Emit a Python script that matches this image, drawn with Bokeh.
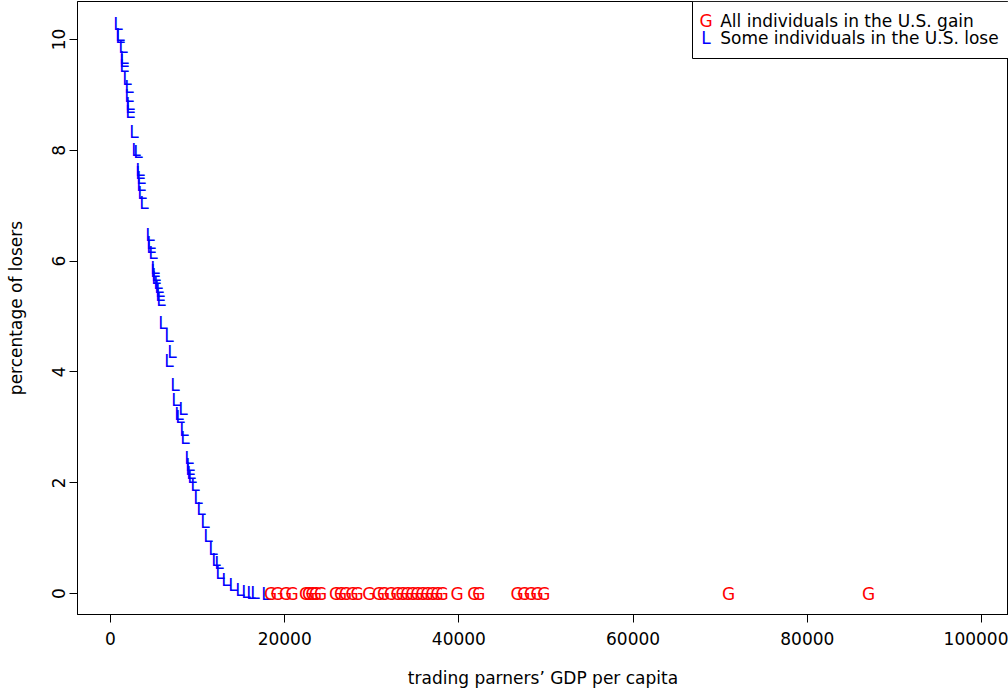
from bokeh.plotting import figure
from bokeh.models import Range1d, FixedTicker, ColumnDataSource, BoxAnnotation, Label, NumeralTickFormatter
from bokeh.embed import file_html
from bokeh.resources import INLINE
from bokeh.core.properties import value

# Trading partners where some individuals in the U.S. lose
lose_gdp = [860, 1090, 1090, 1435, 1550, 1550, 1550, 1894, 2124, 2124, 2239, 2239, 2239,
            2698, 2928, 3157, 3387, 3387, 3502, 3502, 3617, 3846,
            4535, 4650, 4650, 4880, 5109, 5109, 5224, 5224, 5454, 5568, 5683, 5683, 5798, 6028,
            6716, 7061, 6716, 7405, 7520, 8324, 7865, 7979, 8439, 8553,
            9013, 9127, 9127, 9242, 9357, 9700, 10046, 10390, 10850, 11194, 11768, 12112,
            12457, 12572, 13260, 14064, 14868, 15557, 16131, 16590, 17853]
lose_pct = [10.28, 10.08, 10.05, 9.86, 9.67, 9.61, 9.52, 9.29, 9.14, 8.98, 8.84, 8.78, 8.69,
            8.33, 8.01, 7.97, 7.64, 7.59, 7.50, 7.37, 7.23, 7.05,
            6.47, 6.33, 6.25, 6.15, 5.88, 5.82, 5.75, 5.69, 5.60, 5.53, 5.46, 5.39, 5.30, 4.88,
            4.65, 4.36, 4.20, 3.76, 3.49, 3.33, 3.24, 3.19, 2.95, 2.81,
            2.45, 2.32, 2.25, 2.18, 2.10, 1.96, 1.72, 1.53, 1.29, 1.04, 0.80, 0.60,
            0.55, 0.37, 0.24, 0.15, 0.06, 0.03, 0.01, 0.01, 0.0]

# Trading partners where all individuals in the U.S. gain
gain_gdp = [18370, 19139, 20092, 20861, 22388, 22733, 23157, 23536, 24110,
            25832, 26406, 26980, 27750, 28324, 29655,
            30770, 31343, 32147, 32916, 33490, 34064, 34638, 35212, 35786, 36360, 36934,
            37509, 38083, 39805, 41711, 42285,
            46693, 47451, 48220, 48989, 49747, 70953, 87026]
gain_pct = [0.0] * len(gain_gdp)

x_ticks = [0, 20000, 40000, 60000, 80000, 100000]
y_ticks = [0, 2, 4, 6, 8, 10]
legend_labels = ["All individuals in the U.S. gain", "Some individuals in the U.S. lose"]
legend_symbols = ["G", "L"]
legend_colors = ["#FF0000", "#0000FF"]

FONT = "DejaVu Sans"
FS = "17px"

p = figure(width=1008, height=691, output_backend="svg", toolbar_location=None,
           x_range=Range1d(-3789, 103100), y_range=Range1d(-0.379, 10.686),
           min_border_left=77, min_border_right=0, min_border_top=1, min_border_bottom=77,
           background_fill_color="white", border_fill_color="white")

p.grid.visible = False
p.outline_line_color = "black"
p.outline_line_width = 1
p.outline_line_alpha = 1.0

lose_src = ColumnDataSource(dict(x=lose_gdp, y=lose_pct, t=["L"] * len(lose_gdp)))
gain_src = ColumnDataSource(dict(x=gain_gdp, y=gain_pct, t=["G"] * len(gain_gdp)))

p.text(x="x", y="y", text="t", source=lose_src, text_color="#0000FF",
       text_font=value(FONT), text_font_size=FS, text_align="center", text_baseline="middle")
p.text(x="x", y="y", text="t", source=gain_src, text_color="#FF0000",
       text_font=value(FONT), text_font_size=FS, text_align="center", text_baseline="middle")

for ax in (p.xaxis[0], p.yaxis[0]):
    ax.axis_line_color = "black"
    ax.major_tick_line_color = "black"
    ax.major_tick_out = 8
    ax.major_tick_in = 0
    ax.minor_tick_line_color = None
    ax.major_label_text_font = FONT
    ax.major_label_text_font_size = FS
    ax.major_label_text_color = "black"
    ax.axis_label_text_font = FONT
    ax.axis_label_text_font_size = FS
    ax.axis_label_text_font_style = "normal"
    ax.axis_label_text_color = "black"

p.xaxis.ticker = FixedTicker(ticks=x_ticks)
p.xaxis.formatter = NumeralTickFormatter(format="0")
p.yaxis.ticker = FixedTicker(ticks=y_ticks)
p.yaxis.formatter = NumeralTickFormatter(format="0")
p.xaxis.axis_label = "trading parners\u2019 GDP per capita"
p.yaxis.axis_label = "percentage of losers"
p.xaxis.major_label_standoff = 9
p.xaxis.axis_label_standoff = 20
p.yaxis.major_label_orientation = "vertical"
p.yaxis.major_label_standoff = 4
p.yaxis.axis_label_standoff = 24

# legend (drawn manually, R-style)
box = BoxAnnotation(left=66820, bottom=9.657, fill_color="white", fill_alpha=1.0,
                    line_color="black", line_width=1, line_alpha=1.0)
p.add_layout(box)
leg_y = [10.325, 10.036]
for sym, col, lab, yy in zip(legend_symbols, legend_colors, legend_labels, leg_y):
    p.add_layout(Label(x=68370, y=yy, text=sym, text_color=col, text_font=FONT,
                       text_font_size=FS, text_align="center", text_baseline="middle"))
    p.add_layout(Label(x=70000, y=yy, text=lab, text_color="black", text_font=FONT,
                       text_font_size=FS, text_align="left", text_baseline="middle"))

open("out.html", "w").write(file_html(p, INLINE))
